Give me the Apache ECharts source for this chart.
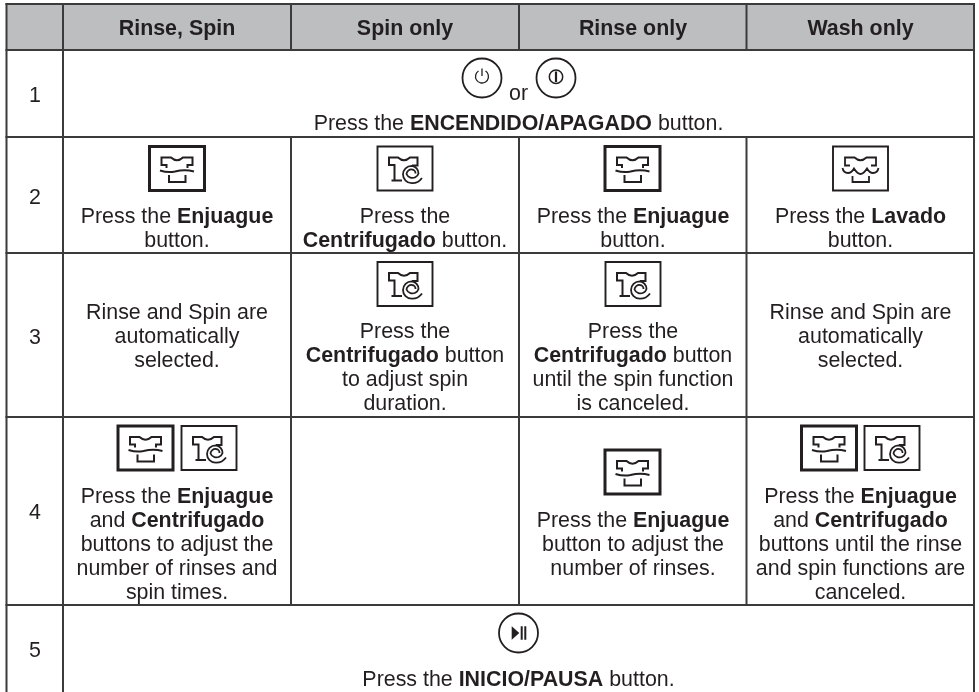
<!DOCTYPE html>
<html><head><meta charset="utf-8">
<style>html,body{margin:0;padding:0;background:#fff}#c{width:979px;height:692px;filter:blur(0.4px)}</style>
<script src="https://cdn.jsdelivr.net/npm/echarts@6/dist/echarts.min.js"></script>
</head><body><div id="c"></div>
<script>
// ---- content ----
const headerLabels = ['Rinse, Spin', 'Spin only', 'Rinse only', 'Wash only'];
const stepLabels = ['1', '2', '3', '4', '5'];
const step1Text = ['Press the **ENCENDIDO/APAGADO** button.'];
const step2Text = [
  ['Press the **Enjuague**', 'button.'],
  ['Press the', '**Centrifugado** button.'],
  ['Press the **Enjuague**', 'button.'],
  ['Press the **Lavado**', 'button.']
];
const step3Text = [
  ['Rinse and Spin are', 'automatically', 'selected.'],
  ['Press the', '**Centrifugado** button', 'to adjust spin', 'duration.'],
  ['Press the', '**Centrifugado** button', 'until the spin function', 'is canceled.'],
  ['Rinse and Spin are', 'automatically', 'selected.']
];
const step4Text = [
  ['Press the **Enjuague**', 'and **Centrifugado**', 'buttons to adjust the', 'number of rinses and', 'spin times.'],
  [],
  ['Press the **Enjuague**', 'button to adjust the', 'number of rinses.'],
  ['Press the **Enjuague**', 'and **Centrifugado**', 'buttons until the rinse', 'and spin functions are', 'canceled.']
];
const step5Text = ['Press the **INICIO/PAUSA** button.'];
const orWord = 'or';

// ---- layout (page pixels, used as the hidden axes' values) ----
const colEdges = [6.5, 63, 291, 519, 746.5, 974];
const rowEdges = [4, 50, 137, 253, 417, 605, 692];
const colCenters = [177, 405, 633, 860.5];
const numberCenter = 35;
const numberBaselines = [102, 204, 344, 519, 657];
const headerBaseline = 35;
const lineGap = 24;
const FONT = '"Liberation Sans", Arial, sans-serif';
const FONT_SIZE = 21.4;
const INK = '#231f20';
const RULE = '#3b3b3b';

const textLines = [];
function block(lines, cx, first, bold) {
  lines.forEach((t, i) => textLines.push({ t: bold ? '**' + t + '**' : t, x: cx, y: first + i * lineGap }));
}
headerLabels.forEach((h, i) => block([h], colCenters[i], headerBaseline, true));
stepLabels.forEach((s, i) => block([s], numberCenter, numberBaselines[i], false));
block(step1Text, 518.5, 129.5);
block([orWord], 518.5, 100);
[223.2, 223.2, 223.2, 223.2].forEach((b, i) => block(step2Text[i], colCenters[i], b));
[318.7, 338, 338, 318.7].forEach((b, i) => block(step3Text[i], colCenters[i], b));
[502.5, 0, 527, 502.5].forEach((b, i) => block(step4Text[i], colCenters[i], b));
block(step5Text, 518.5, 686);

// rules: [x1,y1,x2,y2]
const rules = [];
[0, 1, 2, 3, 4, 5].forEach(r => rules.push([colEdges[0], rowEdges[r], colEdges[5], rowEdges[r]]));
[0, 1, 5].forEach(c => rules.push([colEdges[c], rowEdges[0], colEdges[c], rowEdges[6]]));
[2, 3, 4].forEach(c => {
  rules.push([colEdges[c], rowEdges[0], colEdges[c], rowEdges[1]]);
  rules.push([colEdges[c], rowEdges[2], colEdges[c], rowEdges[5]]);
});

// icons: [cx, cy, kind] ; kind index into iconKinds
const iconKinds = ['rinse', 'spin', 'wash', 'power', 'powerI', 'play'];
const icons = [
  [482, 78, 3], [556, 78, 4],
  [177, 168, 0], [405, 168, 1], [632.5, 168, 0], [860.5, 168, 2],
  [405, 283.5, 1], [633, 283.5, 1],
  [145.5, 447.5, 0], [209, 447.5, 1],
  [632.5, 471.5, 0],
  [829, 447.5, 0], [892, 447.5, 1],
  [518.5, 633, 5]
];

const SHIRT_RINSE = 'M-10.5 0L-10.5-3L-15.5-3L-15.5-10.5L-6-10.5Q0-5 6-10.5L15.5-10.5L15.5-3L10.5-3L10.5 0M-17 2.5Q-9 5 -2 3.5Q8 1 17 3.5M-8 7L-8 14L8.5 14L8.5 7';
const SHIRT_WASH = 'M-10.5-2.5L-15.5-2.5L-15.5-10.5L-6-10.5Q0-5 6-10.5L15.5-10.5L15.5-2.5L10.5-2.5M-18 0Q-17 5 -12.5 5Q-9 5 -6.5 0.5Q-3 6 0 6Q3 6 6.5 0.5Q9 5 12.5 5Q17 5 18 0M-8 8L-8 14L8.5 14L8.5 8';
const SHIRT_SPIN = 'M-10.5 3L-10.5-3L-16-3L-16-10.5L-7-10.5Q-1-5 5-10.5L12.5-10.5L12.5-2.5L7-2.5M-10.5 3L-10.5 12.5L-13.5 12.5M-10.5 12.5L-3 12.5';
const SPIRAL = 'M17 10Q13 15.5 6.7 15.2A8.7 8.7 0 0 1 6.7-2.2A7.5 7.5 0 0 1 13.5 5.5A6.4 6.4 0 0 1 1.5 6A5 5 0 0 1 7 1.5A3.8 3.8 0 0 1 10.5 5.5';
const POWER = 'M-3.5-7A6.5 6.5 0 1 0 3.5-7M0-9.5L0-2';
const POWER_I = 'M0-6.5L0 4';

function boxed(cx, cy, lw, extra) {
  return [{ type: 'rect', x: cx, y: cy, silent: true,
    shape: { x: -27.5, y: -21.5, width: 55, height: 44 },
    style: { fill: 'none', stroke: INK, lineWidth: lw } }].concat(extra);
}
function pth(d, cx, cy, lw, fill) {
  return { type: 'path', x: cx, y: cy, silent: true, shape: { pathData: d },
    style: { fill: fill || 'none', stroke: fill ? null : INK, lineWidth: lw } };
}
function circ(cx, cy, r, lw) {
  return { type: 'circle', x: cx, y: cy, silent: true, shape: { cx: 0, cy: 0, r },
    style: { fill: 'none', stroke: INK, lineWidth: lw } };
}

function toRich(s) {
  return s.split('**').map((p, i) => p ? (i % 2 ? '{b|' + p + '}' : '{r|' + p + '}') : '').join('');
}

const chart = echarts.init(document.getElementById('c'));
chart.setOption({
  animation: false,
  backgroundColor: '#fff',
  grid: { left: 0, top: 0, width: 979, height: 692 },
  xAxis: { type: 'value', min: 0, max: 979, show: false },
  yAxis: { type: 'value', min: 0, max: 692, inverse: true, show: false },
  tooltip: { show: false },
  series: [
    { type: 'custom', silent: true, clip: false, z: 1,
      data: [[colEdges[0], rowEdges[0], colEdges[5], rowEdges[1]]],
      renderItem: (p, api) => {
        const a = api.coord([api.value(0), api.value(1)]), b = api.coord([api.value(2), api.value(3)]);
        return { type: 'rect', shape: { x: a[0], y: a[1], width: b[0] - a[0], height: b[1] - a[1] }, style: { fill: '#bcbec0' } };
      } },
    { type: 'custom', silent: true, clip: false, z: 2, data: rules,
      renderItem: (p, api) => {
        const a = api.coord([api.value(0), api.value(1)]), b = api.coord([api.value(2), api.value(3)]);
        return { type: 'line', shape: { x1: a[0], y1: a[1], x2: b[0], y2: b[1] }, style: { stroke: RULE, lineWidth: 2, lineCap: 'square' } };
      } },
    { type: 'custom', silent: true, clip: false, z: 3, data: icons.map(d => d.slice()),
      renderItem: (p, api) => {
        const c = api.coord([api.value(0), api.value(1)]), x = c[0], y = c[1];
        const kind = iconKinds[api.value(2)];
        let ch = [];
        if (kind === 'rinse') ch = boxed(x, y, 3, [pth(SHIRT_RINSE, x, y, 2)]);
        if (kind === 'spin') ch = boxed(x, y, 1.9, [pth(SHIRT_SPIN, x, y, 2), pth(SPIRAL, x, y, 1.8)]);
        if (kind === 'wash') ch = boxed(x, y, 1.9, [pth(SHIRT_WASH, x, y, 1.8)]);
        if (kind === 'power') ch = [circ(x, y, 19.5, 1.8), pth(POWER, x, y, 1.3)];
        if (kind === 'powerI') ch = [circ(x, y, 19.5, 1.8), circ(x, y - 1.3, 6.7, 1.5), pth(POWER_I, x, y, 2.2)];
        if (kind === 'play') ch = [circ(x, y, 19.5, 1.8),
          pth('M-6.8-6.7L-6.8 6.7L.8 0Z', x, y, 1, INK), pth('M2.2-6.7L4.2-6.7L4.2 6.7L2.2 6.7ZM5.8-6.7L7.8-6.7L7.8 6.7L5.8 6.7Z', x, y, 1, INK)];
        return { type: 'group', children: ch };
      } },
    { type: 'custom', silent: true, clip: false, z: 4, data: textLines.map(l => [l.x, l.y]),
      renderItem: (p, api) => {
        const c = api.coord([api.value(0), api.value(1)]);
        return { type: 'text', x: c[0], y: c[1] - 5.8, silent: true, style: {
          text: toRich(textLines[p.dataIndex].t), align: 'center', verticalAlign: 'middle',
          rich: {
            r: { fontFamily: FONT, fontSize: FONT_SIZE, fill: INK, lineHeight: 24 },
            b: { fontFamily: FONT, fontSize: FONT_SIZE, fontWeight: 'bold', fill: INK, lineHeight: 24 }
          } } };
      } }
  ]
});
</script></body></html>
